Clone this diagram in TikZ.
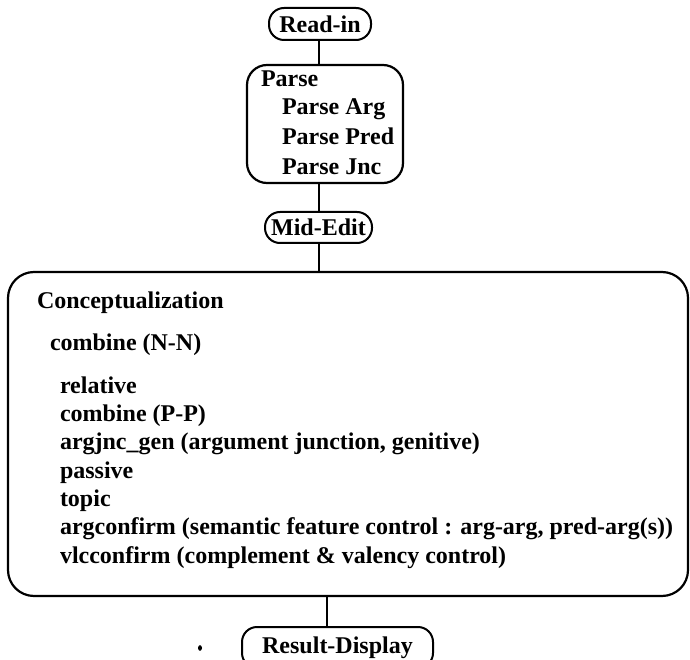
\documentclass[tikz,border=0pt]{standalone}
\usepackage{fontspec}
\setmainfont{Liberation Serif}
\begin{document}
\begin{tikzpicture}[x=1pt,y=-1pt,
  every node/.style={font=\fontsize{24}{24}\selectfont\bfseries, inner sep=0pt, outer sep=0pt},
  pill/.style={draw, line width=2pt, rounded corners=15pt},
  parsebox/.style={draw, line width=2.2pt, rounded corners=20pt},
  bigbox/.style={draw, line width=2.2pt, rounded corners=26pt},
  item/.style={anchor=base west},
  conn/.style={line width=1.8pt}]
\useasboundingbox (0,0) rectangle (690,660);
% boxes
\node[pill, minimum width=102pt, minimum height=32pt] (readin) at (320,24) {Read-in};
\node[parsebox, minimum width=156pt, minimum height=118pt] (parse) at (325,124) {};
\node[pill, minimum width=107pt, minimum height=31pt] (midedit) at (318.5,227.5) {Mid-Edit};
\node[bigbox, minimum width=680pt, minimum height=324pt] (concept) at (348,434) {};
\node[pill, minimum width=191pt, minimum height=41pt] (result) at (337.5,647.5) {Result-Display};
% parse texts
\node[item] (p0) at (261,87) {Parse};
\node[item] (p1) at (282,115) {Parse Arg};
\node[item] (p2) at (282,145) {Parse Pred};
\node[item] (p3) at (282,175) {Parse Jnc};
% conceptualization texts
\node[item] (c0) at (37,308) {Conceptualization};
\node[item] (c1) at (50,350) {combine (N-N)};
\node[item] (c2) at (60,393) {relative};
\node[item] (c3) at (60,421.3) {combine (P-P)};
\node[item] (c4) at (60,449.6) {argjnc\_gen (argument junction, genitive)};
\node[item] (c5) at (60,478) {passive};
\node[item] (c6) at (60,506.3) {topic};
\node[item] (c7) at (60,534.6) {argconfirm (semantic feature control : arg-arg, pred-arg(s))};
\node[item] (c8) at (60,563) {vlcconfirm (complement \& valency control)};
% connectors
\coordinate (j1) at (319,40);
\coordinate (j2) at (319,183);
\coordinate (j3) at (319,243);
\coordinate (j4) at (327,596);
\draw[conn] (j1) -- (j1 |- parse.north);
\draw[conn] (j2) -- (j2 |- midedit.north);
\draw[conn] (j3) -- (j3 |- concept.north);
\draw[conn] (j4) -- (j4 |- result.north);
% scan mark
\fill (200,648) ellipse (2pt and 2.8pt);
\end{tikzpicture}
\end{document}
